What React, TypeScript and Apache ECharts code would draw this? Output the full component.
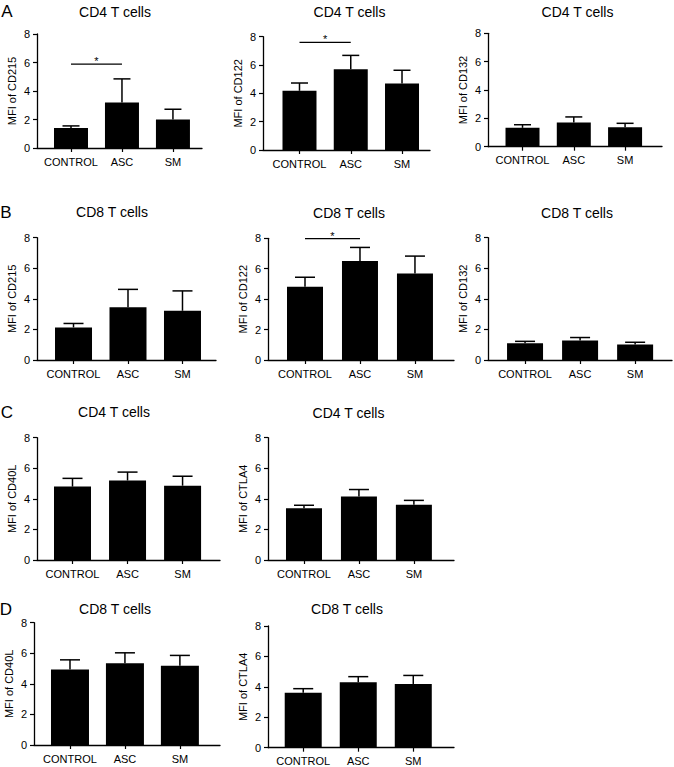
import React, { useEffect, useRef } from 'react';
import * as echarts from 'echarts';

const categories = ['CONTROL', 'ASC', 'SM'];
const yMin = 0;
const yMax = 8;
const yInterval = 2;

// Panel A: CD4 T cells
const cd4CD215Mean = [1.4, 3.2, 2.0];
const cd4CD215Err = [0.15, 1.65, 0.72];
const cd4CD122Mean = [4.18, 5.7, 4.7];
const cd4CD122Err = [0.55, 0.98, 0.93];
const cd4CD132Mean = [1.33, 1.7, 1.38];
const cd4CD132Err = [0.22, 0.4, 0.27];
// Panel B: CD8 T cells
const cd8CD215Mean = [2.13, 3.45, 3.22];
const cd8CD215Err = [0.26, 1.17, 1.3];
const cd8CD122Mean = [4.82, 6.5, 5.68];
const cd8CD122Err = [0.62, 0.9, 1.15];
const cd8CD132Mean = [1.1, 1.27, 1.02];
const cd8CD132Err = [0.12, 0.2, 0.14];
// Panel C: CD4 T cells
const cd4CD40LMean = [4.8, 5.2, 4.86];
const cd4CD40LErr = [0.54, 0.55, 0.62];
const cd4CTLA4Mean = [3.38, 4.16, 3.62];
const cd4CTLA4Err = [0.2, 0.45, 0.28];
// Panel D: CD8 T cells
const cd8CD40LMean = [4.94, 5.35, 5.18];
const cd8CD40LErr = [0.63, 0.68, 0.68];
const cd8CTLA4Mean = [3.62, 4.3, 4.19];
const cd8CTLA4Err = [0.26, 0.37, 0.56];

// significance brackets: [fromCategory, toCategory, y]
const sigA1 = [[0, 1, 5.88]];
const sigA2 = [[0, 1, 7.6]];
const sigB2 = [[0, 1, 7.98]];

const panelDefs = [
  { title: 'CD4 T cells', yName: 'MFI of CD215', mean: cd4CD215Mean, err: cd4CD215Err, sig: sigA1 },
  { title: 'CD4 T cells', yName: 'MFI of CD122', mean: cd4CD122Mean, err: cd4CD122Err, sig: sigA2 },
  { title: 'CD4 T cells', yName: 'MFI of CD132', mean: cd4CD132Mean, err: cd4CD132Err, sig: [] },
  { title: 'CD8 T cells', yName: 'MFI of CD215', mean: cd8CD215Mean, err: cd8CD215Err, sig: [] },
  { title: 'CD8 T cells', yName: 'MFI of CD122', mean: cd8CD122Mean, err: cd8CD122Err, sig: sigB2 },
  { title: 'CD8 T cells', yName: 'MFI of CD132', mean: cd8CD132Mean, err: cd8CD132Err, sig: [] },
  { title: 'CD4 T cells', yName: 'MFI of CD40L', mean: cd4CD40LMean, err: cd4CD40LErr, sig: [] },
  { title: 'CD4 T cells', yName: 'MFI of CTLA4', mean: cd4CTLA4Mean, err: cd4CTLA4Err, sig: [] },
  { title: 'CD8 T cells', yName: 'MFI of CD40L', mean: cd8CD40LMean, err: cd8CD40LErr, sig: [] },
  { title: 'CD8 T cells', yName: 'MFI of CTLA4', mean: cd8CTLA4Mean, err: cd8CTLA4Err, sig: [] },
];

const panelLetters = ['A', 'B', 'C', 'D'];

// layout (pixels)
const layouts = [
  { left: 37, top: 34, width: 165, height: 114, xMin: -0.667, xMax: 2.57, barW: 34, cap: 17, tx: 115, ty: 12 },
  { left: 263, top: 36.7, width: 167, height: 113.3, xMin: -0.712, xMax: 2.546, barW: 34, cap: 17, tx: 349.5, ty: 12 },
  { left: 488, top: 33.3, width: 174, height: 113.4, xMin: -0.673, xMax: 2.72, barW: 34, cap: 17, tx: 577.5, ty: 12 },
  { left: 37, top: 237.7, width: 179, height: 122.3, xMin: -0.67, xMax: 2.615, barW: 37, cap: 20, tx: 112, ty: 212 },
  { left: 268, top: 238.3, width: 186, height: 121.7, xMin: -0.673, xMax: 2.71, barW: 36, cap: 20, tx: 349, ty: 213 },
  { left: 488, top: 237.7, width: 184, height: 122.3, xMin: -0.673, xMax: 2.67, barW: 36, cap: 20, tx: 577, ty: 213 },
  { left: 37, top: 437.7, width: 183, height: 122.3, xMin: -0.645, xMax: 2.68, barW: 37, cap: 20, tx: 114, ty: 412 },
  { left: 268, top: 437.7, width: 186, height: 122.3, xMin: -0.655, xMax: 2.73, barW: 36, cap: 20, tx: 348.5, ty: 413 },
  { left: 34, top: 622.7, width: 186, height: 122.3, xMin: -0.655, xMax: 2.73, barW: 38, cap: 20, tx: 115, ty: 609 },
  { left: 268, top: 626, width: 186, height: 121.7, xMin: -0.64, xMax: 2.74, barW: 37, cap: 20, tx: 347, ty: 609 },
];

const letterPos = [
  { x: 7, y: 11 },
  { x: 6, y: 212 },
  { x: 7, y: 412 },
  { x: 6, y: 609 },
];

const FONT = '"Liberation Sans", Arial, Helvetica, sans-serif';
const INK = '#000000';

function buildOption() {
  const grid: any[] = [];
  const xAxis: any[] = [];
  const yAxis: any[] = [];
  const series: any[] = [];
  const graphic: any[] = [];

  panelDefs.forEach((p, i) => {
    const L = layouts[i];
    grid.push({ left: L.left, top: L.top, width: L.width, height: L.height, containLabel: false });
    xAxis.push({
      type: 'value',
      gridIndex: i,
      min: L.xMin,
      max: L.xMax,
      splitLine: { show: false },
      axisLine: { show: true, onZero: false, lineStyle: { color: INK, width: 1.3 } },
      axisTick: { show: true, length: 4, customValues: [0, 1, 2], lineStyle: { color: INK, width: 1.2 } },
      axisLabel: {
        show: true,
        customValues: [0, 1, 2],
        formatter: (v: number) => categories[Math.round(v)] ?? '',
        color: INK,
        fontSize: 11,
        fontFamily: FONT,
        margin: 8,
      },
    });
    yAxis.push({
      type: 'value',
      gridIndex: i,
      min: yMin,
      max: yMax,
      interval: yInterval,
      name: p.yName,
      nameLocation: 'middle',
      nameGap: 20,
      nameTextStyle: { color: INK, fontSize: 11, fontFamily: FONT },
      splitLine: { show: false },
      axisLine: { show: true, onZero: false, lineStyle: { color: INK, width: 1.3 } },
      axisTick: { show: true, length: 4, lineStyle: { color: INK, width: 1.2 } },
      axisLabel: { color: INK, fontSize: 11, fontFamily: FONT, margin: 7 },
    });
    series.push({
      type: 'bar',
      xAxisIndex: i,
      yAxisIndex: i,
      barWidth: L.barW,
      itemStyle: { color: INK },
      data: p.mean.map((v, k) => [k, v]),
      z: 2,
    });
    const cap = L.cap;
    series.push({
      type: 'custom',
      xAxisIndex: i,
      yAxisIndex: i,
      clip: false,
      z: 3,
      encode: { x: 0, y: 1 },
      data: p.mean.map((v, k) => [k, v, p.err[k]]),
      renderItem: (_params: any, api: any) => {
        const x = api.value(0);
        const m = api.value(1);
        const e = api.value(2);
        const b = api.coord([x, m]);
        const t = api.coord([x, m + e]);
        const st = { stroke: INK, lineWidth: 1.5 };
        return {
          type: 'group',
          children: [
            { type: 'line', shape: { x1: b[0], y1: b[1], x2: t[0], y2: t[1] }, style: st },
            { type: 'line', shape: { x1: t[0] - cap / 2, y1: t[1], x2: t[0] + cap / 2, y2: t[1] }, style: st },
          ],
        };
      },
    });
    if (p.sig.length) {
      series.push({
        type: 'custom',
        xAxisIndex: i,
        yAxisIndex: i,
        clip: false,
        z: 3,
        encode: { x: [0, 1], y: 2 },
        data: p.sig,
        renderItem: (_params: any, api: any) => {
          const a = api.coord([api.value(0), api.value(2)]);
          const c = api.coord([api.value(1), api.value(2)]);
          return {
            type: 'group',
            children: [
              { type: 'line', shape: { x1: a[0], y1: a[1], x2: c[0], y2: c[1] }, style: { stroke: INK, lineWidth: 1.2 } },
              {
                type: 'text',
                style: {
                  text: '*',
                  x: (a[0] + c[0]) / 2,
                  y: a[1] - 3,
                  fill: INK,
                  font: `11px ${FONT}`,
                  align: 'center',
                  verticalAlign: 'middle',
                  textAlign: 'center',
                  textVerticalAlign: 'middle',
                },
              },
            ],
          };
        },
      });
    }
    graphic.push({
      type: 'text',
      style: {
        text: p.title,
        x: L.tx,
        y: L.ty,
        fill: INK,
        font: `14px ${FONT}`,
        align: 'center',
        verticalAlign: 'middle',
        textAlign: 'center',
        textVerticalAlign: 'middle',
      },
    });
  });

  panelLetters.forEach((l, k) => {
    graphic.push({
      type: 'text',
      style: {
        text: l,
        x: letterPos[k].x,
        y: letterPos[k].y,
        fill: INK,
        font: `17px ${FONT}`,
        align: 'center',
        verticalAlign: 'middle',
        textAlign: 'center',
        textVerticalAlign: 'middle',
      },
    });
  });

  return {
    animation: false,
    backgroundColor: '#ffffff',
    textStyle: { fontFamily: FONT },
    grid,
    xAxis,
    yAxis,
    series,
    graphic,
  };
}

export default function App() {
  const ref = useRef<HTMLDivElement>(null);
  useEffect(() => {
    document.body.style.margin = '0';
    if (!ref.current) return;
    const chart = echarts.init(ref.current, null, { renderer: 'svg' });
    chart.setOption(buildOption() as any);
    return () => chart.dispose();
  }, []);
  return <div ref={ref} style={{ position: 'absolute', left: 0, top: 0, width: 674, height: 767, background: '#fff' }} />;
}
